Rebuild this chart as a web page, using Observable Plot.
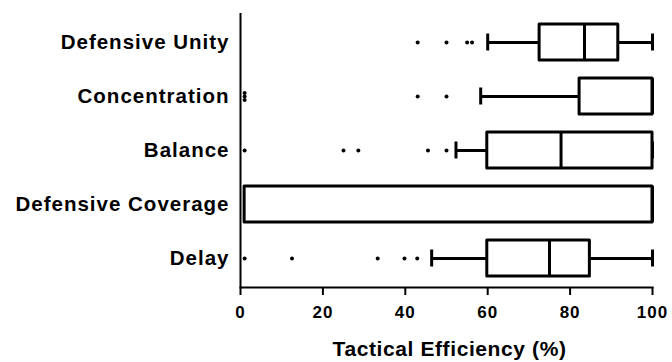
<!DOCTYPE html>
<html>
<head>
<meta charset="utf-8">
<script src="https://cdn.jsdelivr.net/npm/d3@7"></script>
<script src="https://cdn.jsdelivr.net/npm/@observablehq/plot@0.6"></script>
<style>
  html, body { margin: 0; padding: 0; background: #fff; }
  #chart svg { display: block; }
  #chart g[aria-label="y-axis tick label"] text { letter-spacing: 1px; }
  #chart g[aria-label="x-axis tick label"] text { letter-spacing: 1px; }
  #chart g[aria-label="text"] text { letter-spacing: 0.6px; }
</style>
</head>
<body>
<div id="chart"></div>
<script>
// Categories (top to bottom)
const categories = ["Defensive Unity", "Concentration", "Balance", "Defensive Coverage", "Delay"];
// Box-plot summary values (%)
const whiskerLow  = [60, 58.3, 52.3, 1, 46.4];
const q1          = [72.6, 82.3, 59.9, 1, 59.9];
const median      = [83.5, 100, 77.8, 100, 75];
const q3          = [91.7, 100, 100, 100, 84.8];
const whiskerHigh = [100, 100, 100, 100, 100];
// Outliers (long format)
const outlierCategory = [
  "Defensive Unity", "Defensive Unity", "Defensive Unity", "Defensive Unity",
  "Concentration", "Concentration", "Concentration", "Concentration", "Concentration",
  "Balance", "Balance", "Balance", "Balance", "Balance",
  "Delay", "Delay", "Delay", "Delay", "Delay"
];
const outlierValue = [
  43, 50, 55, 56.2,
  1, 1, 1, 43, 50,
  1, 25, 28.6, 45.5, 50,
  1, 12.5, 33.3, 39.8, 42.9
];
const xTicks = [0, 20, 40, 60, 80, 100];
const xLabel = "Tactical Efficiency (%)";

const stats = categories.map((c, i) => ({
  cat: c, lo: whiskerLow[i], q1: q1[i], med: median[i], q3: q3[i], hi: whiskerHigh[i]
}));

// Stack identical outliers vertically (like GraphPad)
const seen = new Map();
const outliers = outlierCategory.map((c, i) => {
  const key = c + "|" + outlierValue[i];
  const k = seen.get(key) || 0;
  seen.set(key, k + 1);
  return {cat: c, v: outlierValue[i], k};
});
outliers.forEach(o => { o.n = seen.get(o.cat + "|" + o.v); });
const offsets = [...new Set(outliers.map(o => o.k - (o.n - 1) / 2))];

const font = "'Liberation Sans', Arial, Helvetica, sans-serif";

const chart = Plot.plot({
  width: 672,
  height: 362,
  marginLeft: 240,
  marginRight: 20,
  marginTop: 13,
  marginBottom: 75,
  style: {fontFamily: font, fontWeight: "bold", color: "#000", background: "#fff"},
  x: {domain: [0, 100]},
  y: {domain: categories, paddingInner: 0.34, paddingOuter: 0.17},
  marks: [
    Plot.ruleY(stats, {y: "cat", x1: "lo", x2: "hi", stroke: "#000", strokeWidth: 3}),
    Plot.tickX(stats, {y: "cat", x: "lo", stroke: "#000", strokeWidth: 3, insetTop: 9.5, insetBottom: 9.5}),
    Plot.tickX(stats, {y: "cat", x: "hi", stroke: "#000", strokeWidth: 3, insetTop: 9.5, insetBottom: 9.5}),
    Plot.barX(stats, {y: "cat", x1: "q1", x2: "q3", fill: "#fff", stroke: "#000", strokeWidth: 3, strokeLinejoin: "round"}),
    Plot.tickX(stats, {y: "cat", x: "med", stroke: "#000", strokeWidth: 3}),
    ...offsets.map(off => Plot.dot(outliers.filter(o => o.k - (o.n - 1) / 2 === off), {
      x: "v", y: "cat", r: 2, fill: "#000", stroke: "none", dy: off * 3.4
    })),
    Plot.ruleX([0], {stroke: "#000", strokeWidth: 2}),
    Plot.frame({anchor: "bottom", stroke: "#000", strokeWidth: 2}),
    Plot.axisY({tickSize: 0, tickPadding: 11, fontSize: 20.5, label: null}),
    Plot.axisX({ticks: xTicks, tickSize: 8, tickPadding: 10, fontSize: 17, strokeWidth: 2, label: null}),
    Plot.text([xLabel], {frameAnchor: "bottom", dy: 68, dx: 3, fontSize: 21, fontWeight: "bold", fill: "#000"})
  ]
});
document.getElementById("chart").appendChild(chart);
</script>
</body>
</html>
